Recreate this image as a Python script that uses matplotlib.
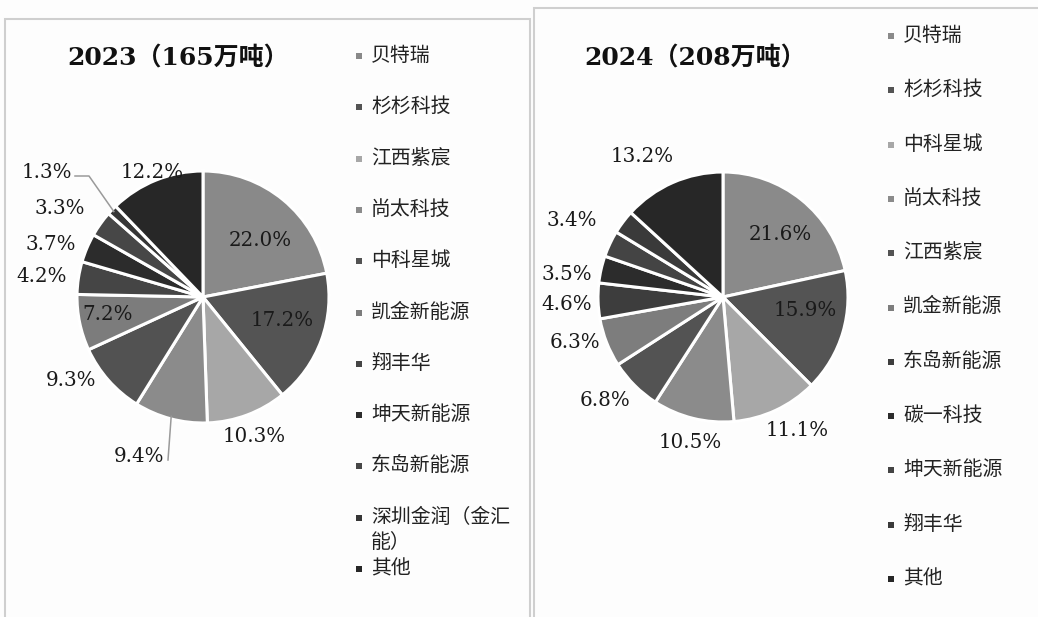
import matplotlib
matplotlib.use('Agg')
import matplotlib.pyplot as plt
from matplotlib.patches import Rectangle
import numpy as np

# ---------------- data ----------------
title_2023 = '2023（165万吨）'
companies_2023 = ['贝特瑞', '杉杉科技', '江西紫宸', '尚太科技', '中科星城', '凯金新能源',
                  '翔丰华', '坤天新能源', '东岛新能源', '深圳金润（金汇\n能）', '其他']
shares_2023 = [22.0, 17.2, 10.3, 9.4, 9.3, 7.2, 4.2, 3.7, 3.3, 1.3, 12.2]
labels_2023 = ['22.0%', '17.2%', '10.3%', '9.4%', '9.3%', '7.2%', '4.2%', '3.7%', '3.3%', '1.3%', '12.2%']
colors_2023 = ['#898989', '#545454', '#a7a7a7', '#8b8b8b', '#525252', '#7c7c7c',
               '#454545', '#2c2c2c', '#474747', '#363636', '#272727']

title_2024 = '2024（208万吨）'
companies_2024 = ['贝特瑞', '杉杉科技', '中科星城', '尚太科技', '江西紫宸', '凯金新能源',
                  '东岛新能源', '碳一科技', '坤天新能源', '翔丰华', '其他']
shares_2024 = [21.6, 15.9, 11.1, 10.5, 6.8, 6.3, 4.6, 3.5, 3.4, 3.1, 13.2]
labels_2024 = ['21.6%', '15.9%', '11.1%', '10.5%', '6.8%', '6.3%', '4.6%', '3.5%', '3.4%', '', '13.2%']
colors_2024 = ['#8a8a8a', '#545454', '#a7a7a7', '#8b8b8b', '#535353', '#7d7d7d',
               '#3d3d3d', '#2c2c2c', '#444444', '#3a3a3a', '#272727']

# ---------------- layout (pixels) ----------------
W, H = 1038, 617
fig = plt.figure(figsize=(W / 100, H / 100), dpi=100)
fig.patch.set_facecolor('#fdfdfd')

def fx(px):
    return px / W

def fy(py):
    return 1 - py / H

# panel frames
for (x0, y0, x1) in [(5, 19, 530), (534, 8, 1048)]:
    fig.patches.append(Rectangle((fx(x0), fy(H + 10)), fx(x1) - fx(x0), fy(y0) - fy(H + 10),
                                 transform=fig.transFigure, fill=False,
                                 edgecolor='#cfcfcf', linewidth=1.5, zorder=0))

PCT_FONT = dict(family='DejaVu Serif', fontsize=14.3, color='#1a1a1a')
TITLE_FONT = dict(family=['DejaVu Serif', 'Noto Sans CJK SC'], fontsize=18,
                  fontweight='bold', color='#111111')
LEG_FONT = dict(family=['Noto Sans CJK SC', 'DejaVu Sans'], fontsize=14.3, color='#222222')


def draw_panel(cx, cy, r, shares, colors, labels, label_px, title, title_xy,
               companies, leg_marker_x, leg_text_x, leg_y0, leg_step, leaders):
    ax = fig.add_axes([fx(cx - r), fy(cy + r), fx(2 * r), (2 * r) / H])
    wedges, _ = ax.pie(shares, colors=colors, startangle=90, counterclock=False,
                       radius=1.0, wedgeprops=dict(edgecolor='white', linewidth=2.2))
    ax.set_xlim(-1, 1)
    ax.set_ylim(-1, 1)
    ax.set_aspect('auto')
    ax.axis('off')
    # percentage labels
    for lab, pos in zip(labels, label_px):
        if not lab or pos is None:
            continue
        px, py = pos
        ax.text((px - cx) / r, (cy - py) / r, lab, ha='center', va='center',
                clip_on=False, **PCT_FONT)
    # leader lines
    for idx, pts in leaders:
        w = wedges[idx]
        mid = np.deg2rad((w.theta1 + w.theta2) / 2)
        tip = (np.cos(mid) * 0.98, np.sin(mid) * 0.98)
        xs = [tip[0]] + [(p[0] - cx) / r for p in pts]
        ys = [tip[1]] + [(cy - p[1]) / r for p in pts]
        ax.plot(xs, ys, color='#9a9a9a', linewidth=1.1, clip_on=False)
    # title
    fig.text(fx(title_xy[0]), fy(title_xy[1]), title, ha='center', va='center', **TITLE_FONT)
    # legend
    for i, (name, col) in enumerate(zip(companies, colors)):
        y = leg_y0 + i * leg_step
        fig.patches.append(Rectangle((fx(leg_marker_x - 3), fy(y + 3)), fx(6), 6 / H,
                                     transform=fig.transFigure, facecolor=col,
                                     edgecolor='none'))
        fig.text(fx(leg_text_x), fy(y - 11), name, ha='left', va='top',
                 linespacing=1.25, **LEG_FONT)
    return ax


# 2023 panel
label_px_2023 = [(260, 240), (282, 321), (254, 437), (139, 457), (71, 380), (108, 315),
                 (42, 277), (51, 244), (60, 209), (47, 173), (152, 172)]
draw_panel(203, 297, 126, shares_2023, colors_2023, labels_2023, label_px_2023,
           title_2023, (178, 59), companies_2023, 359, 371, 56, 51.3,
           leaders=[(3, [(168, 460)]), (9, [(89, 176), (75, 176)])])

# 2024 panel
label_px_2024 = [(780, 234), (805, 311), (797, 431), (690, 443), (605, 401), (575, 342),
                 (567, 305), (567, 275), (572, 220), None, (642, 157)]
draw_panel(723, 297, 125, shares_2024, colors_2024, labels_2024, label_px_2024,
           title_2024, (695, 59), companies_2024, 891, 903, 36, 54.3, leaders=[])

fig.savefig('out.png', dpi=100, facecolor=fig.get_facecolor())
